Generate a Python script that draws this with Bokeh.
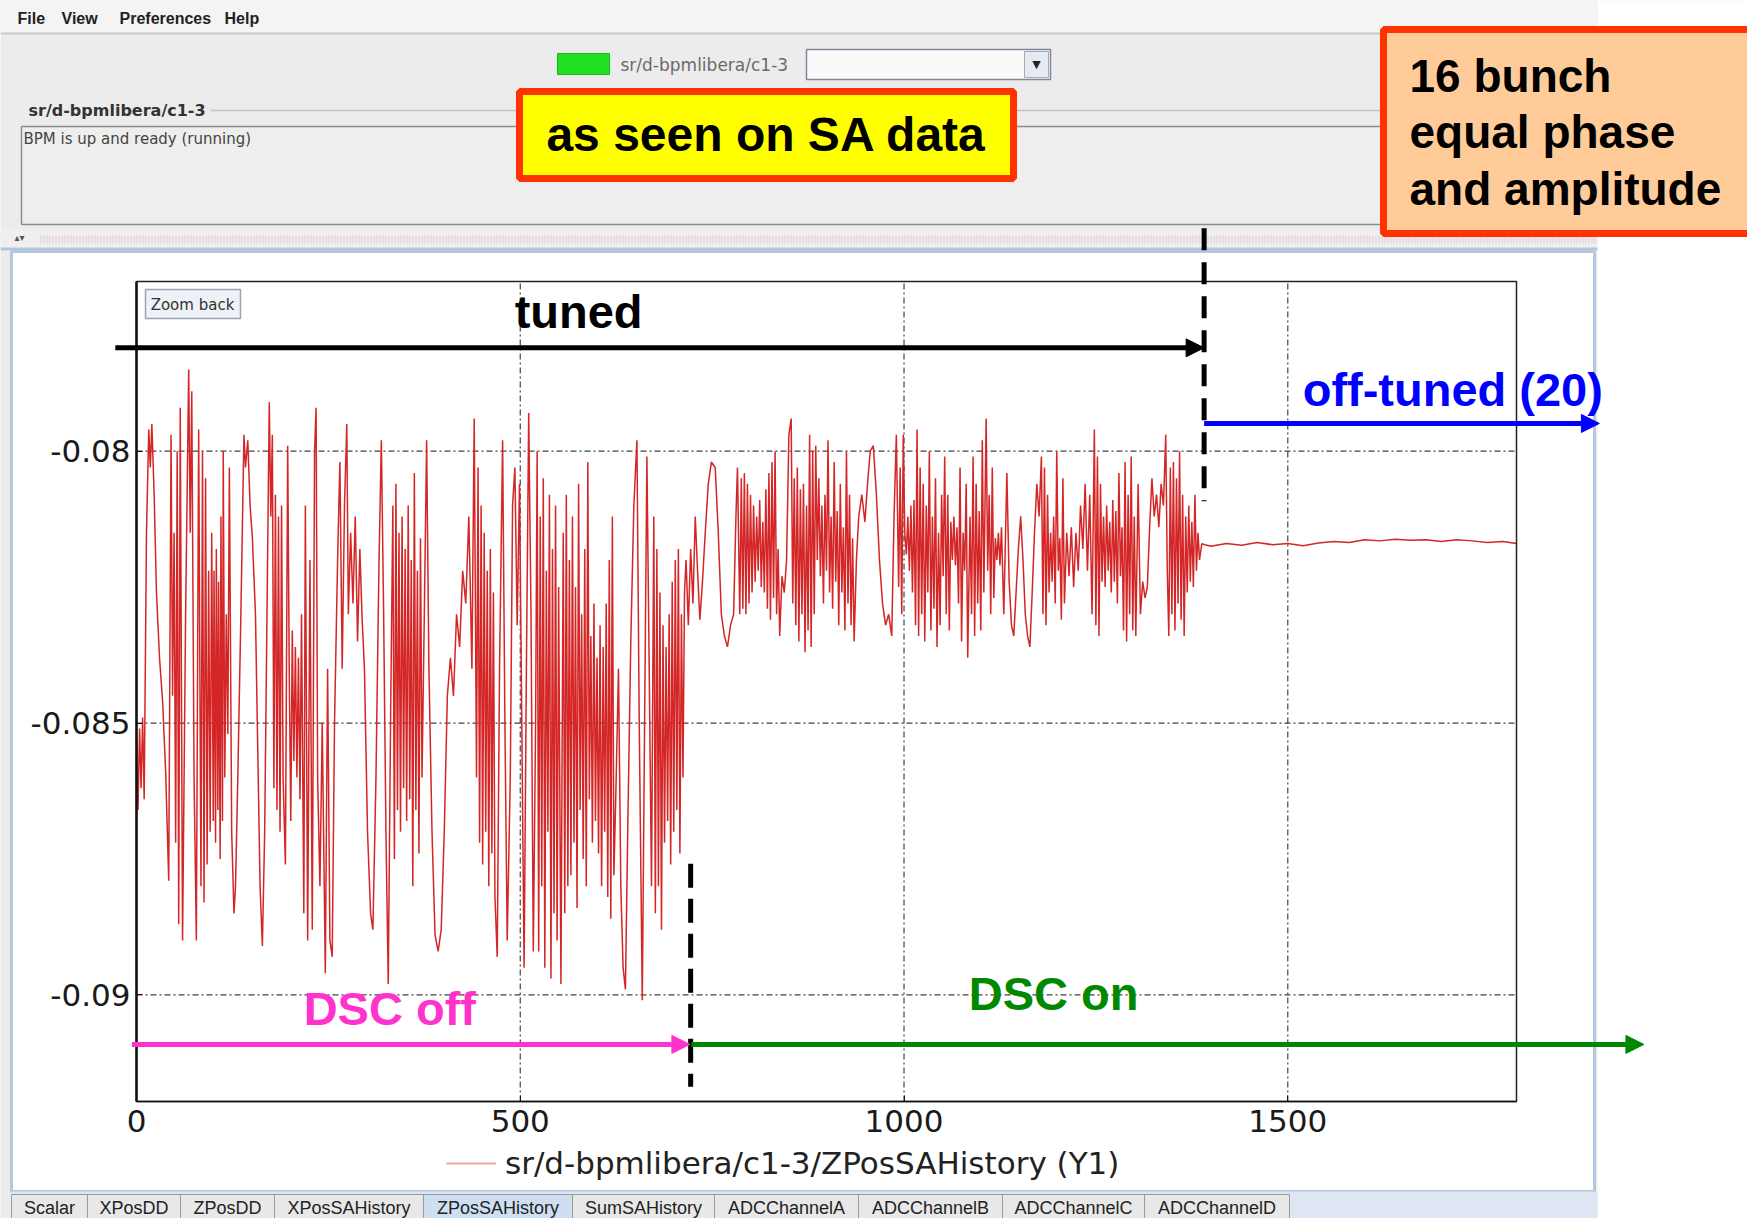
from bokeh.plotting import figure
from bokeh.models import (Range1d, FixedTicker, LinearAxis, Label, Arrow,
                          NormalHead, Legend, LegendItem)
from bokeh.embed import file_html
from bokeh.resources import INLINE

# ------------------------------------------------------------------ data
x_ticks = [0, 500, 1000, 1500]
y_ticks = [-0.09, -0.085, -0.08]
y_tick_labels = ["-0.09", "-0.085", "-0.08"]

menu_items = ["File", "View", "Preferences", "Help"]
device_name = "sr/d-bpmlibera/c1-3"
status_text = "BPM is up and ready (running)"
series_label = "sr/d-bpmlibera/c1-3/ZPosSAHistory (Y1)"
tab_names = ["Scalar", "XPosDD", "ZPosDD", "XPosSAHistory", "ZPosSAHistory",
             "SumSAHistory", "ADCChannelA", "ADCChannelB", "ADCChannelC", "ADCChannelD"]
selected_tab = "ZPosSAHistory"

# DSC off (large beating oscillation)
dsc_off_idx = [
    0, 2, 4, 6, 8, 10, 13, 16, 18, 20,
    23, 26, 30, 34, 38, 42, 45, 47, 49, 51,
    53, 55, 57, 60, 64, 68, 70, 72, 75, 78,
    81, 84, 86, 88, 90, 92, 94, 96, 98, 100,
    101, 103, 104, 106, 107, 109, 110, 112, 113, 115,
    117, 119, 121, 124, 127, 129, 132, 136, 140, 142,
    145, 148, 151, 155, 158, 161, 164, 167, 170, 173,
    175, 177, 179, 181, 183, 185, 187, 189, 191, 194,
    197, 199, 201, 203, 205, 207, 209, 211, 213, 215,
    218, 220, 223, 226, 229, 232, 234, 236, 239, 242,
    246, 249, 252, 255, 258, 262, 265, 268, 271, 274,
    276, 279, 282, 285, 288, 291, 294, 297, 301, 305,
    308, 312, 316, 319, 322, 325, 328, 331, 334, 336,
    338, 340, 342, 344, 346, 348, 350, 352, 354, 356,
    358, 360, 362, 364, 366, 368, 370, 372, 375, 378,
    381, 385, 389, 393, 397, 401, 405, 409, 413, 417,
    421, 425, 429, 433, 437, 440, 443, 445, 447, 449,
    451, 453, 455, 457, 459, 461, 463, 465, 467, 470,
    473, 477, 480, 483, 487, 490, 493, 496, 499, 502,
    505, 508, 511, 514, 517, 520, 522, 524, 526, 528,
    530, 532, 534, 536, 538, 540, 542, 544, 546, 548,
    550, 553, 556, 558, 560, 562, 564, 566, 568, 570,
    572, 574, 576, 578, 580, 582, 584, 586, 588, 590,
    592, 594, 596, 598, 600, 602, 604, 606, 608, 610,
    612, 614, 616, 618, 620, 622, 625, 628, 631, 634,
    637, 640, 644, 648, 652, 655, 659, 662, 665, 668,
    671, 674, 676, 678, 680, 682, 684, 686, 688, 690,
    692, 694, 696, 698, 700, 702, 704, 706, 708, 710,
    712, 714]
dsc_off_z = [
    -0.0853, -0.0866, -0.0851, -0.0862, -0.0849, -0.0864, -0.0815, -0.0796, -0.0803, -0.0795,
    -0.0808, -0.0826, -0.0838, -0.0846, -0.0859, -0.0879, -0.0797, -0.0845, -0.0815, -0.0872,
    -0.0800, -0.0887, -0.0792, -0.0890, -0.0830, -0.0785, -0.0815, -0.0789, -0.0860, -0.0890,
    -0.0796, -0.0880, -0.0800, -0.0883, -0.0805, -0.0876, -0.0822, -0.0870, -0.0815, -0.0868,
    -0.0822, -0.0872, -0.0818, -0.0866, -0.0824, -0.0875, -0.0812, -0.0868, -0.0800, -0.0860,
    -0.0830, -0.0852, -0.0803, -0.0870, -0.0885, -0.0880, -0.0860, -0.0830, -0.0797, -0.0803,
    -0.0798, -0.0810, -0.0816, -0.0830, -0.0855, -0.0880, -0.0891, -0.0870, -0.0830, -0.0791,
    -0.0812, -0.0797, -0.0862, -0.0808, -0.0866, -0.0812, -0.0870, -0.0810, -0.0860, -0.0876,
    -0.0799, -0.0840, -0.0868, -0.0833, -0.0857, -0.0836, -0.0860, -0.0838, -0.0864, -0.0830,
    -0.0885, -0.0810, -0.0890, -0.0820, -0.0888, -0.0800, -0.0792, -0.0860, -0.0880, -0.0850,
    -0.0896, -0.0840, -0.0890, -0.0893, -0.0850, -0.0820, -0.0802, -0.0840, -0.0810, -0.0795,
    -0.0830, -0.0815, -0.0828, -0.0812, -0.0835, -0.0818, -0.0831, -0.0840, -0.0870, -0.0885,
    -0.0888, -0.0860, -0.0820, -0.0798, -0.0830, -0.0870, -0.0898, -0.0850, -0.0810, -0.0875,
    -0.0806, -0.0866, -0.0815, -0.0870, -0.0812, -0.0862, -0.0818, -0.0868, -0.0810, -0.0864,
    -0.0820, -0.0880, -0.0804, -0.0866, -0.0822, -0.0874, -0.0816, -0.0860, -0.0830, -0.0798,
    -0.0840, -0.0870, -0.0889, -0.0892, -0.0888, -0.0870, -0.0845, -0.0838, -0.0845, -0.0830,
    -0.0836, -0.0822, -0.0828, -0.0812, -0.0840, -0.0794, -0.0860, -0.0803, -0.0872, -0.0810,
    -0.0876, -0.0815, -0.0870, -0.0822, -0.0880, -0.0818, -0.0874, -0.0826, -0.0882, -0.0893,
    -0.0840, -0.0798, -0.0850, -0.0890, -0.0860, -0.0810, -0.0803, -0.0832, -0.0806, -0.0850,
    -0.0895, -0.0840, -0.0793, -0.0830, -0.0892, -0.0850, -0.0800, -0.0892, -0.0812, -0.0880,
    -0.0805, -0.0895, -0.0822, -0.0870, -0.0808, -0.0897, -0.0818, -0.0885, -0.0810, -0.0890,
    -0.0825, -0.0898, -0.0815, -0.0885, -0.0808, -0.0880, -0.0820, -0.0878, -0.0812, -0.0872,
    -0.0825, -0.0884, -0.0806, -0.0866, -0.0830, -0.0875, -0.0818, -0.0880, -0.0802, -0.0864,
    -0.0834, -0.0872, -0.0828, -0.0868, -0.0838, -0.0874, -0.0832, -0.0880, -0.0836, -0.0870,
    -0.0828, -0.0882, -0.0820, -0.0886, -0.0812, -0.0878, -0.0860, -0.0840, -0.0880, -0.0895,
    -0.0899, -0.0870, -0.0835, -0.0810, -0.0798, -0.0850, -0.0901, -0.0850, -0.0801, -0.0840,
    -0.0880, -0.0812, -0.0885, -0.0818, -0.0880, -0.0826, -0.0888, -0.0832, -0.0872, -0.0836,
    -0.0868, -0.0830, -0.0876, -0.0824, -0.0870, -0.0820, -0.0866, -0.0818, -0.0874, -0.0830,
    -0.0860, -0.0826]

# DSC on, tuned (smaller oscillation)
dsc_on_idx = [
    716, 719, 722, 725, 728, 731, 734, 737, 741, 745,
    749, 754, 758, 762, 766, 770, 774, 778, 781, 783,
    786, 788, 790, 792, 794, 796, 798, 800, 802, 804,
    806, 808, 810, 812, 814, 816, 818, 820, 822, 824,
    826, 828, 830, 832, 834, 836, 838, 841, 844, 847,
    850, 853, 855, 857, 859, 861, 863, 865, 867, 869,
    871, 873, 875, 877, 879, 881, 883, 885, 887, 889,
    891, 893, 895, 897, 899, 901, 903, 905, 907, 909,
    911, 913, 915, 917, 919, 921, 923, 925, 927, 929,
    931, 933, 935, 938, 941, 945, 949, 953, 956, 960,
    964, 968, 972, 976, 980, 984, 987, 990, 993, 995,
    997, 999, 1001, 1003, 1005, 1007, 1009, 1011, 1013, 1015,
    1017, 1019, 1021, 1023, 1025, 1027, 1029, 1031, 1033, 1035,
    1037, 1039, 1041, 1043, 1045, 1047, 1049, 1051, 1053, 1055,
    1057, 1059, 1061, 1063, 1065, 1067, 1069, 1071, 1073, 1075,
    1077, 1079, 1081, 1083, 1086, 1088, 1090, 1092, 1094, 1096,
    1098, 1100, 1102, 1104, 1107, 1109, 1111, 1113, 1115, 1117,
    1119, 1121, 1123, 1125, 1127, 1130, 1134, 1137, 1140, 1143,
    1146, 1149, 1152, 1155, 1158, 1161, 1164, 1167, 1170, 1173,
    1176, 1179, 1181, 1183, 1185, 1187, 1189, 1191, 1193, 1195,
    1197, 1199, 1201, 1203, 1205, 1207, 1209, 1212, 1215, 1218,
    1221, 1224, 1227, 1230, 1233, 1236, 1239, 1242, 1245, 1248,
    1250, 1252, 1254, 1256, 1258, 1260, 1262, 1264, 1266, 1268,
    1270, 1272, 1274, 1276, 1278, 1280, 1282, 1284, 1286, 1288,
    1290, 1292, 1294, 1296, 1298, 1300, 1302, 1305, 1308, 1311,
    1314, 1317, 1320, 1323, 1326, 1329, 1332, 1335, 1338, 1341,
    1343, 1345, 1347, 1349, 1351, 1353, 1355, 1357, 1359, 1361,
    1363, 1365, 1367, 1369, 1371, 1373, 1375, 1377, 1379, 1381,
    1383, 1385, 1388]
dsc_on_z = [
    -0.0820, -0.0832, -0.0818, -0.0828, -0.0812, -0.0822, -0.0831, -0.0825, -0.0815, -0.0806,
    -0.0802, -0.0803, -0.0815, -0.0830, -0.0834, -0.0836, -0.0832, -0.0830, -0.0812, -0.0803,
    -0.0830, -0.0805, -0.0829, -0.0804, -0.0830, -0.0806, -0.0828, -0.0808, -0.0826, -0.0810,
    -0.0824, -0.0812, -0.0822, -0.0809, -0.0825, -0.0813, -0.0826, -0.0807, -0.0829, -0.0804,
    -0.0831, -0.0802, -0.0827, -0.0800, -0.0830, -0.0818, -0.0834, -0.0823, -0.0826, -0.0820,
    -0.0797, -0.0794, -0.0828, -0.0805, -0.0832, -0.0803, -0.0835, -0.0807, -0.0830, -0.0806,
    -0.0837, -0.0810, -0.0833, -0.0797, -0.0836, -0.0800, -0.0830, -0.0799, -0.0820, -0.0805,
    -0.0823, -0.0810, -0.0828, -0.0808, -0.0822, -0.0798, -0.0826, -0.0812, -0.0829, -0.0802,
    -0.0824, -0.0811, -0.0832, -0.0806, -0.0826, -0.0814, -0.0833, -0.0800, -0.0828, -0.0808,
    -0.0832, -0.0816, -0.0835, -0.0820, -0.0812, -0.0808, -0.0813, -0.0805, -0.0800, -0.0799,
    -0.0808, -0.0820, -0.0828, -0.0832, -0.0830, -0.0834, -0.0812, -0.0797, -0.0825, -0.0803,
    -0.0830, -0.0797, -0.0815, -0.0819, -0.0812, -0.0822, -0.0810, -0.0826, -0.0809, -0.0832,
    -0.0796, -0.0834, -0.0803, -0.0830, -0.0806, -0.0835, -0.0810, -0.0826, -0.0800, -0.0833,
    -0.0812, -0.0829, -0.0805, -0.0836, -0.0815, -0.0832, -0.0808, -0.0823, -0.0801, -0.0830,
    -0.0808, -0.0833, -0.0813, -0.0820, -0.0812, -0.0821, -0.0814, -0.0828, -0.0803, -0.0835,
    -0.0815, -0.0822, -0.0806, -0.0838, -0.0812, -0.0830, -0.0801, -0.0834, -0.0806, -0.0828,
    -0.0811, -0.0833, -0.0798, -0.0826, -0.0794, -0.0822, -0.0808, -0.0830, -0.0803, -0.0827,
    -0.0816, -0.0820, -0.0815, -0.0821, -0.0814, -0.0830, -0.0804, -0.0824, -0.0832, -0.0834,
    -0.0826, -0.0818, -0.0812, -0.0820, -0.0830, -0.0834, -0.0836, -0.0826, -0.0815, -0.0806,
    -0.0812, -0.0801, -0.0830, -0.0803, -0.0832, -0.0808, -0.0826, -0.0815, -0.0824, -0.0812,
    -0.0828, -0.0800, -0.0822, -0.0816, -0.0831, -0.0805, -0.0828, -0.0815, -0.0823, -0.0814,
    -0.0825, -0.0815, -0.0822, -0.0810, -0.0818, -0.0806, -0.0822, -0.0808, -0.0830, -0.0796,
    -0.0832, -0.0801, -0.0834, -0.0806, -0.0824, -0.0812, -0.0825, -0.0810, -0.0822, -0.0813,
    -0.0826, -0.0809, -0.0824, -0.0811, -0.0828, -0.0804, -0.0823, -0.0814, -0.0833, -0.0802,
    -0.0835, -0.0808, -0.0830, -0.0801, -0.0833, -0.0812, -0.0834, -0.0806, -0.0830, -0.0824,
    -0.0827, -0.0825, -0.0814, -0.0805, -0.0812, -0.0808, -0.0814, -0.0806, -0.0810, -0.0797,
    -0.0822, -0.0834, -0.0803, -0.0830, -0.0802, -0.0833, -0.0805, -0.0828, -0.0800, -0.0831,
    -0.0808, -0.0834, -0.0812, -0.0826, -0.0810, -0.0824, -0.0813, -0.0825, -0.0808, -0.0822,
    -0.0815, -0.0820, -0.0817]

# off-tuned (20): almost flat
off_tuned_idx = [1392, 1400, 1420, 1440, 1460, 1480, 1500, 1520, 1540, 1560, 1580,
                 1600, 1620, 1640, 1660, 1680, 1700, 1720, 1740, 1760, 1780, 1798]
off_tuned_z = [-0.08172, -0.08175, -0.08170, -0.08173, -0.08168, -0.08172, -0.08170,
               -0.08174, -0.08169, -0.08166, -0.08168, -0.08163, -0.08165, -0.08162,
               -0.08164, -0.08163, -0.08166, -0.08163, -0.08165, -0.08168, -0.08166, -0.08170]

# ------------------------------------------------------------------ page geometry
W, H = 1747, 1218
FL, FT, FR, FB = 136, 281, 1516, 1101        # chart frame in page pixels
X_LO, X_HI = 0, 1798                          # chart axis limits
Y_LO, Y_HI = -0.09196, -0.07688

# The whole page is one frame in pixel units (origin top-left); the chart lives
# on a pair of extra ranges that place [X_LO, X_HI] x [Y_LO, Y_HI] on the chart frame.
kx = (FR - FL) / (X_HI - X_LO)
ky = (FB - FT) / (Y_HI - Y_LO)

p = figure(width=W, height=H, x_range=Range1d(0, W), y_range=Range1d(H, 0),
           x_axis_type=None, y_axis_type=None, title=None,
           output_backend="svg", toolbar_location=None, tools="",
           min_border=0, min_border_left=0, min_border_right=0,
           min_border_top=0, min_border_bottom=0)
p.outline_line_color = None
p.background_fill_color = "#ececec"
p.border_fill_color = "#ececec"
p.extra_x_ranges = {"cx": Range1d(X_LO - FL / kx, X_HI + (W - FR) / kx)}
p.extra_y_ranges = {"cy": Range1d(Y_LO - (H - FB) / ky, Y_HI + FT / ky)}
C = dict(x_range_name="cx", y_range_name="cy")


# ------------------------------------------------------------------ helpers (page pixels)
def gui_box(x0, y0, x1, y1, fill, line=None, lw=1.0):
    p.quad(left=[x0], right=[x1], top=[y0], bottom=[y1], fill_color=fill,
           line_color=line, line_width=lw)


def gui_line(x0, y0, x1, y1, color, width, dash="solid"):
    p.segment(x0=[x0], y0=[y0], x1=[x1], y1=[y1], line_color=color,
              line_width=width, line_dash=dash)


def gui_text(px, py, text, size, color="#333333", font="DejaVu Sans", style="normal",
             align="left"):
    p.add_layout(Label(x=px, y=py, text=text, text_font=font, text_font_size=f"{size}px",
                       text_font_style=style, text_color=color, text_align=align,
                       text_baseline="middle"))


# ------------------------------------------------------------------ application window chrome
gui_box(1597, -5, 1760, 1230, "white")                   # outside the window
gui_box(0, -5, 1597, 33, "#f4f4f4")                      # menu bar
gui_box(0, 32, 1597, 34, "#c9c9c9")
menu_x = [17, 61, 119, 224]
for mx, name in zip(menu_x, menu_items):
    gui_text(mx, 18, name, 16, color="#222222", font="Liberation Sans", style="bold")

gui_box(557, 53, 609, 74, "#22e022", line="#1cb81c")     # state indicator
gui_text(620, 64, device_name, 17, color="#6a6a6a")
gui_box(806, 49, 1050, 79, "#fafafa", line="#7d8898", lw=1.5)   # combo box
gui_box(1024, 51, 1048, 77, "#e6ebf2", line="#a3abb7")
gui_text(1036, 64, "\u25BC", 11, color="#222222", align="center")

gui_text(28, 110, device_name, 16, color="#333333", style="bold")   # group box
gui_line(210, 110, 1590, 110, "#c4c4c4", 1.5)
gui_box(21, 126, 1590, 224, "#eeeeee", line="#8c8c8c", lw=1.5)
gui_text(23, 138, status_text, 15, color="#444444")

gui_box(0, 229, 1597, 250, "#f1eef1")                    # splitter
gui_line(40, 239, 1597, 239, "#dccbd0", 8, dash="1 2")
gui_box(0, 247, 1597, 250, "#b3c6dd")
gui_text(14, 237, "\u25B4\u25BE", 10, color="#555555")

gui_box(11, 251, 1594, 1191, "white", line="#b6c8de", lw=3)   # chart panel

gui_box(11, 1191, 1597, 1225, "#dde6f2")                 # tab bar
tab_edges = [11, 87, 180, 274, 423, 572, 714, 858, 1002, 1144, 1289]
for i, name in enumerate(tab_names):
    fill = "#cfdff2" if name == selected_tab else "#e8e8e8"
    gui_box(tab_edges[i], 1194, tab_edges[i + 1], 1225, fill, line="#9a9a9a", lw=1)
    gui_text((tab_edges[i] + tab_edges[i + 1]) / 2, 1207, name, 18, color="#222222",
             font="Liberation Sans", align="center")

# ------------------------------------------------------------------ chart
grid_style = dict(line_color="#222222", line_alpha=0.85, line_width=1.2, line_dash="6 3 2 3")
xg = [t for t in x_ticks if X_LO < t < X_HI]
p.segment(x0=xg, y0=[Y_LO] * len(xg), x1=xg, y1=[Y_HI] * len(xg), **grid_style, **C)
p.segment(x0=[X_LO] * len(y_ticks), y0=y_ticks, x1=[X_HI] * len(y_ticks), y1=y_ticks,
          **grid_style, **C)

sample_all = dsc_off_idx + dsc_on_idx + off_tuned_idx
zpos_all = dsc_off_z + dsc_on_z + off_tuned_z
n = min(len(sample_all), len(zpos_all))
p.line(x=sample_all[:n], y=zpos_all[:n], line_color="#d42626", line_width=1.5, **C)

p.quad(left=[X_LO], right=[X_HI], bottom=[Y_LO], top=[Y_HI], fill_alpha=0,
       line_color="#222222", line_width=1.5, **C)

xax = LinearAxis(fixed_location=Y_LO, bounds=(X_LO, X_HI), ticker=FixedTicker(ticks=x_ticks), **C)
yax = LinearAxis(fixed_location=X_LO, bounds=(Y_LO, Y_HI), ticker=FixedTicker(ticks=y_ticks), **C)
yax.major_label_overrides = {v: s for v, s in zip(y_ticks, y_tick_labels)}
for ax in (xax, yax):
    ax.major_label_text_font = "DejaVu Sans"
    ax.major_label_text_font_size = "31px"
    ax.major_label_text_color = "#1a1a1a"
    ax.axis_line_color = "#111111"
    ax.major_tick_in = 6
    ax.major_tick_out = 0
    ax.major_tick_line_color = "#111111"
    ax.minor_tick_line_color = None
yax.axis_line_width = 2.5
xax.axis_line_width = 1.5
yax.major_label_standoff = 6
xax.major_label_standoff = 8
p.add_layout(xax, "below")
p.add_layout(yax, "left")

# legend of the viewer, under the chart (swatch renderer sits off the page)
leg_r = p.line(x=[-60, -40], y=[-60, -60], line_color="#f0a6a6", line_width=2)
legend = Legend(items=[LegendItem(label=series_label, renderers=[leg_r])],
                location=(446, 37), orientation="horizontal",
                background_fill_alpha=0.0, border_line_alpha=0.0,
                label_text_font="DejaVu Sans", label_text_font_size="31px",
                label_text_color="#222222", glyph_width=50, glyph_height=22,
                label_standoff=9, padding=0, margin=0, spacing=0)
p.add_layout(legend)

# zoom back button
gui_box(145, 289, 240, 318, "#eef1f6", line="#98a5b6", lw=1.5)
gui_text(192, 304, "Zoom back", 15, color="#333333", align="center")

# ------------------------------------------------------------------ slide annotations
BOLD = "Liberation Sans"
gui_box(519, 91, 1013, 178, "#ffff00", line="#ff3300", lw=7)
gui_text(766, 134, "as seen on SA data", 48, color="black", font=BOLD, style="bold",
         align="center")
gui_box(1383, 29, 1775, 233, "#ffcc99", line="#ff3300", lw=7)
for ty, line_txt in zip([75, 131, 188], ["16 bunch", "equal phase", "and amplitude"]):
    gui_text(1409, ty, line_txt, 46, color="black", font=BOLD, style="bold")

# dashed phase boundaries
p.add_layout(Arrow(x_start=1391, y_start=-0.07590, x_end=1391, y_end=-0.08092,
                   start=None, end=None, line_color="black", line_width=5,
                   line_dash="22 12", **C))
p.add_layout(Arrow(x_start=722, y_start=-0.08759, x_end=722, y_end=-0.09169,
                   start=None, end=None, line_color="black", line_width=5,
                   line_dash="24 11", **C))


def head(c):
    return NormalHead(size=18, fill_color=c, line_color=c)


p.add_layout(Arrow(x_start=-27.6, y_start=-0.0781, x_end=1391, y_end=-0.0781,
                   end=head("black"), line_color="black", line_width=5, **C))
p.add_layout(Arrow(x_start=1391, y_start=-0.07949, x_end=1906, y_end=-0.07949,
                   end=head("#0000ff"), line_color="#0000ff", line_width=5, **C))
p.add_layout(Arrow(x_start=-6, y_start=-0.09091, x_end=721, y_end=-0.09091,
                   end=head("#ff33cc"), line_color="#ff33cc", line_width=5, **C))
p.add_layout(Arrow(x_start=723, y_start=-0.09091, x_end=1964, y_end=-0.09091,
                   end=head("#008800"), line_color="#008800", line_width=5, **C))

for tx, ty, txt, col in [(576, -0.07744, "tuned", "black"),
                         (1715, -0.07886, "off-tuned (20)", "#0000ff"),
                         (330, -0.09025, "DSC off", "#ff33cc"),
                         (1195, -0.08997, "DSC on", "#008800")]:
    p.add_layout(Label(x=tx, y=ty, text=txt, text_font=BOLD, text_font_style="bold",
                       text_font_size="47px", text_color=col, text_align="center",
                       text_baseline="middle", **C))

open("out.html", "w").write(file_html(p, INLINE))
